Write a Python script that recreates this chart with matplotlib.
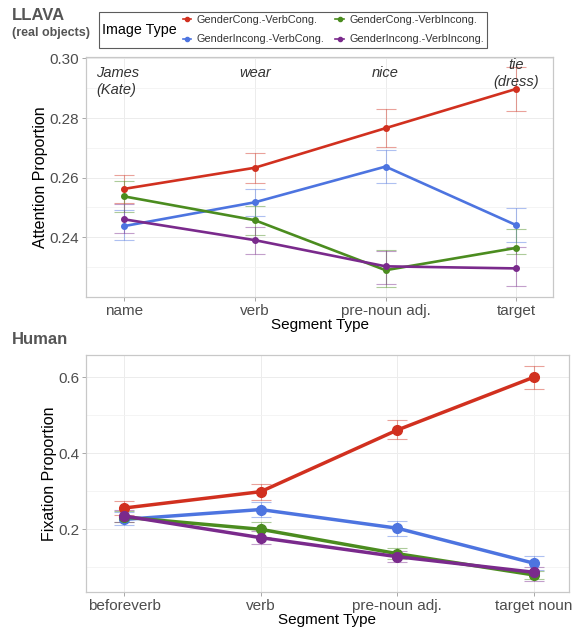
"""LLAVA attention vs human fixation by segment type"""
import numpy as np
import matplotlib
matplotlib.use("Agg")
import matplotlib.pyplot as plt
from matplotlib.lines import Line2D
from matplotlib.offsetbox import HPacker

plt.rcParams["font.family"] = ["Liberation Sans", "DejaVu Sans"]

series_names = ["GenderCong.-VerbCong.", "GenderIncong.-VerbCong.",
                "GenderCong.-VerbIncong.", "GenderIncong.-VerbIncong."]
series_colors = ["#d1301f", "#4d74e0", "#4b8c1f", "#7a2a8c"]

# top panel: LLAVA (real objects)
llava_segments = ["name", "verb", "pre-noun adj.", "target"]
llava_words = ["James\n(Kate)", "wear", "nice", "tie\n(dress)"]
llava_mean = [
    [0.2562, 0.2633, 0.2766, 0.2898],
    [0.2437, 0.2517, 0.2637, 0.2440],
    [0.2537, 0.2457, 0.2289, 0.2364],
    [0.2460, 0.2390, 0.2302, 0.2295],
]
llava_lo = [
    [0.2515, 0.2581, 0.2702, 0.2825],
    [0.2390, 0.2472, 0.2581, 0.2384],
    [0.2485, 0.2407, 0.2233, 0.2345],
    [0.2415, 0.2345, 0.2242, 0.2235],
]
llava_hi = [
    [0.2609, 0.2682, 0.2831, 0.2970],
    [0.2491, 0.2562, 0.2693, 0.2498],
    [0.2587, 0.2506, 0.2356, 0.2426],
    [0.2513, 0.2435, 0.2354, 0.2367],
]

# bottom panel: Human
human_segments = ["beforeverb", "verb", "pre-noun adj.", "target noun"]
human_mean = [
    [0.256, 0.299, 0.461, 0.600],
    [0.226, 0.252, 0.203, 0.111],
    [0.232, 0.200, 0.136, 0.080],
    [0.235, 0.178, 0.128, 0.087],
]
human_lo = [
    [0.237, 0.278, 0.437, 0.570],
    [0.211, 0.233, 0.183, 0.094],
    [0.218, 0.181, 0.122, 0.068],
    [0.220, 0.161, 0.113, 0.065],
]
human_hi = [
    [0.274, 0.320, 0.487, 0.631],
    [0.245, 0.272, 0.223, 0.130],
    [0.247, 0.219, 0.152, 0.091],
    [0.250, 0.196, 0.143, 0.100],
]

W, H = 578, 627
fig = plt.figure(figsize=(W / 100, H / 100), dpi=100)


def px_axes(left, top, right, bottom):
    return fig.add_axes([left / W, 1 - bottom / H, (right - left) / W,
                         (bottom - top) / H])


def style_axes(ax, segments, ylabel, yticks, ytick_labels):
    ax.set_facecolor("white")
    for sp in ax.spines.values():
        sp.set_color("#c8c8c8")
        sp.set_linewidth(0.9)
    ax.set_xticks(range(1, 5))
    ax.set_xticklabels(segments)
    ax.set_yticks(yticks)
    ax.set_yticklabels(ytick_labels)
    ax.tick_params(axis="both", colors="#9a9a9a", labelcolor="#4d4d4d",
                   labelsize=11, length=3, width=0.6, pad=2)
    ax.set_xticks([1.5, 2.5, 3.5], minor=True)
    ax.grid(True, which="major", color="#ececec", linewidth=0.7)
    ax.grid(True, which="minor", axis="y", color="#f3f3f3", linewidth=0.6)
    ax.tick_params(which="minor", length=0)
    ax.set_axisbelow(True)
    ax.set_xlabel("Segment Type", fontsize=11, color="black", labelpad=0)
    ax.set_ylabel(ylabel, fontsize=11.5, color="black", labelpad=1)


x = np.arange(1, 5)

# ---- top panel
ax1 = px_axes(86, 57, 553, 297)
for k in range(4):
    m = np.array(llava_mean[k])
    lo = np.array(llava_lo[k])
    hi = np.array(llava_hi[k])
    ax1.errorbar(x, m, yerr=[m - lo, hi - m], fmt="none",
                 ecolor=series_colors[k], elinewidth=0.8, capsize=7,
                 capthick=0.8, alpha=0.45, zorder=2)
    ax1.plot(x, m, color=series_colors[k], linewidth=1.9, marker="o",
             markersize=4, zorder=3)
ax1.set_xlim(0.71, 4.28)
ax1.set_ylim(0.2199, 0.3005)
ax1.set_yticks([0.23, 0.25, 0.27, 0.29], minor=True)
style_axes(ax1, llava_segments, "Attention Proportion",
           [0.24, 0.26, 0.28, 0.30], ["0.24", "0.26", "0.28", "0.30"])
word_y = [0.2975, 0.2975, 0.2975, 0.3002]
for i, w in enumerate(llava_words):
    ha = "left" if i == 0 else "center"
    xx = 0.79 if i == 0 else i + 1
    ax1.text(xx, word_y[i], w, ha=ha, va="top", fontsize=10.5,
             style="italic", color="#333333", linespacing=1.3)

# ---- bottom panel
ax2 = px_axes(86, 355, 569, 592)
for k in range(4):
    m = np.array(human_mean[k])
    lo = np.array(human_lo[k])
    hi = np.array(human_hi[k])
    ax2.errorbar(x, m, yerr=[m - lo, hi - m], fmt="none",
                 ecolor=series_colors[k], elinewidth=0.8, capsize=7,
                 capthick=0.8, alpha=0.45, zorder=2)
    ax2.plot(x, m, color=series_colors[k], linewidth=2.5, marker="o",
             markersize=7, zorder=3)
ax2.set_xlim(0.72, 4.26)
ax2.set_ylim(0.035, 0.6587)
ax2.set_yticks([0.1, 0.3, 0.5], minor=True)
style_axes(ax2, human_segments, "Fixation Proportion",
           [0.2, 0.4, 0.6], ["0.2", "0.4", "0.6"])

# ---- titles
fig.text(12 / W, 1 - 15 / H, "LLAVA", fontsize=12, fontweight="bold",
         color="#555555", va="center")
fig.text(12 / W, 1 - 33 / H, "(real objects)", fontsize=9, fontweight="bold",
         color="#555555", va="center")
fig.text(12 / W, 1 - 340 / H, "Human", fontsize=12, fontweight="bold",
         color="#555555", va="center")

# ---- legend
handles = [Line2D([0], [0], color=c, marker="o", markersize=3,
                  linewidth=1.2) for c in series_colors]
leg = fig.legend(handles, series_names,
                 ncol=2, loc="upper left", bbox_to_anchor=(99 / W, 1 - 12 / H),
                 title="Image Type", fontsize=7.8, title_fontsize=10.3,
                 frameon=True, fancybox=False, edgecolor="#333333",
                 handlelength=0.8, handletextpad=0.5, columnspacing=1.0,
                 labelspacing=0.85, borderpad=0.3, borderaxespad=0)
leg.get_frame().set_linewidth(0.8)
# put the title left of the entries, like ggplot's horizontal legend
title_box = leg._legend_box._children[0]
body_box = leg._legend_box._children[1]
leg._legend_box._children = [HPacker(pad=0, sep=4,
                                     children=[title_box, body_box],
                                     align="center")]
for t in leg.get_texts():
    t.set_color("#333333")

fig.savefig("out.png", dpi=100, facecolor="white")
